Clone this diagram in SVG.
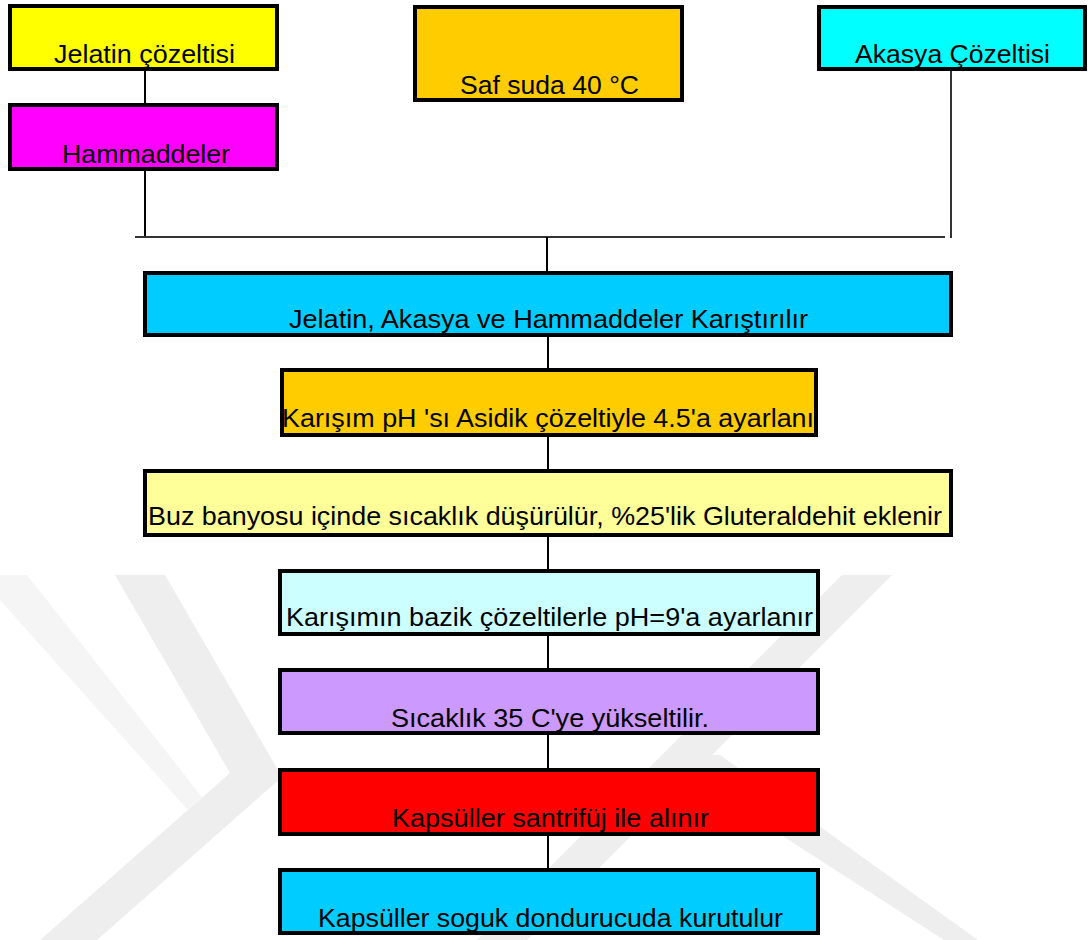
<svg xmlns="http://www.w3.org/2000/svg" width="1090" height="940" viewBox="0 0 1090 940">
<style>
.box{stroke:#000;stroke-width:4}
.t{font-family:"Liberation Sans",Arial,sans-serif;font-size:26px;fill:#000}
.c{stroke:#000;stroke-width:2;fill:none}
.wm{fill:#eeeeee}
.wl{fill:#f5f5f5}
</style>
<defs>
<clipPath id="clipPh"><rect x="282" y="372" width="536" height="61"/></clipPath>
</defs>
<rect width="1090" height="940" fill="#fff"/>
<g id="watermark">
<polygon class="wl" points="0,575 27,575 202,797 188,810 0,600"/>
<polygon class="wm" points="115,575 165,575 282,777 97,940 40,940 230,773"/>
<polygon class="wm" points="842,575 892,575 527,940 477,940"/>
<polygon class="wm" points="690,755 720,755 978,940 944,940 680,770"/>
</g>
<g id="connectors">
<line class="c" x1="145" y1="71" x2="145" y2="103"/>
<line class="c" x1="145" y1="171" x2="145" y2="237"/>
<line class="c" x1="951" y1="71" x2="951" y2="238" style="stroke-width:1.6"/>
<line class="c" x1="135" y1="237" x2="945" y2="237" style="stroke:#333"/>
<line class="c" x1="547" y1="237" x2="547" y2="271"/>
<line class="c" x1="548" y1="337" x2="548" y2="370"/>
<line class="c" x1="548" y1="437" x2="548" y2="469"/>
<line class="c" x1="548" y1="537" x2="548" y2="569"/>
<line class="c" x1="548" y1="636" x2="548" y2="668"/>
<line class="c" x1="548" y1="735" x2="548" y2="768"/>
<line class="c" x1="548" y1="836" x2="548" y2="868"/>
</g>
<g id="n-jelatin">
<rect class="box" x="10" y="6" width="267" height="63" fill="#ffff00"/>
<text class="t" x="54" y="63" textLength="181" lengthAdjust="spacingAndGlyphs">Jelatin çözeltisi</text>
</g>
<g id="n-hammadde">
<rect class="box" x="10" y="105" width="267" height="64" fill="#ff00ff"/>
<text class="t" x="62" y="163" textLength="168" lengthAdjust="spacingAndGlyphs">Hammaddeler</text>
</g>
<g id="n-saf">
<rect class="box" x="415" y="7" width="267" height="93" fill="#ffcc00"/>
<text class="t" x="460" y="94" textLength="179" lengthAdjust="spacingAndGlyphs">Saf suda 40 °C</text>
</g>
<g id="n-akasya">
<rect class="box" x="819" y="7" width="266" height="62" fill="#00ffff"/>
<text class="t" x="855" y="63" textLength="195" lengthAdjust="spacingAndGlyphs">Akasya Çözeltisi</text>
</g>
<g id="n-karistir">
<rect class="box" x="145" y="273" width="806" height="62" fill="#00ccff"/>
<text class="t" x="289" y="328" textLength="519" lengthAdjust="spacingAndGlyphs">Jelatin, Akasya ve Hammaddeler Karıştırılır</text>
</g>
<g id="n-ph">
<rect class="box" x="282" y="370" width="534" height="65" fill="#ffcc00"/>
<text class="t" x="282" y="427" textLength="541" lengthAdjust="spacingAndGlyphs" clip-path="url(#clipPh)">Karışım pH 'sı Asidik çözeltiyle 4.5'a ayarlanır</text>
</g>
<g id="n-buz">
<rect class="box" x="145" y="471" width="806" height="64" fill="#ffff99"/>
<text class="t" x="148" y="525" textLength="794" lengthAdjust="spacingAndGlyphs">Buz banyosu içinde sıcaklık düşürülür, %25'lik Gluteraldehit eklenir</text>
</g>
<g id="n-bazik">
<rect class="box" x="280" y="571" width="538" height="63" fill="#ccffff"/>
<text class="t" x="286" y="626" textLength="527" lengthAdjust="spacingAndGlyphs">Karışımın bazik çözeltilerle pH=9'a ayarlanır</text>
</g>
<g id="n-sicaklik">
<rect class="box" x="280" y="670" width="538" height="63" fill="#cc99ff"/>
<text class="t" x="391" y="727" textLength="318" lengthAdjust="spacingAndGlyphs">Sıcaklık 35 C'ye yükseltilir.</text>
</g>
<g id="n-santrifuj">
<rect class="box" x="280" y="770" width="538" height="64" fill="#ff0000"/>
<text class="t" x="392" y="827" textLength="317" lengthAdjust="spacingAndGlyphs">Kapsüller santrifüj ile alınır</text>
</g>
<g id="n-kurutma">
<rect class="box" x="280" y="870" width="538" height="63" fill="#00ccff"/>
<text class="t" x="318" y="927" textLength="465" lengthAdjust="spacingAndGlyphs">Kapsüller soguk dondurucuda kurutulur</text>
</g>
</svg>
